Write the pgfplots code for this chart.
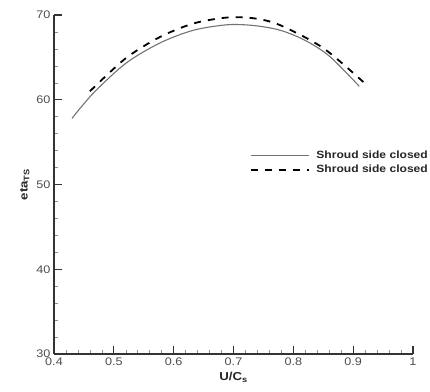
\documentclass[border=0pt]{standalone}
\usepackage{fontspec}
\setmainfont{Liberation Sans}[FakeStretch=1.15]
\usepackage{pgfplots}
\pgfplotsset{compat=1.18}
\begin{document}
\begin{tikzpicture}[x=1pt,y=1pt]
\useasboundingbox (0,0) rectangle (430,391);
\begin{axis}[
  at={(54pt,37pt)}, anchor=south west,
  scale only axis, width=359pt, height=339pt,
  xmin=0.4, xmax=1, ymin=30, ymax=70,
  axis x line=bottom, axis y line=left,
  axis line style={-, draw=black!80, line width=1.4pt},
  xtick={0.4,0.5,0.6,0.7,0.8,0.9,1},
  xticklabels={0.4,0.5,0.6,0.7,0.8,0.9,1},
  ytick={30,40,50,60,70},
  minor x tick num=4, minor y tick num=4,
  tick align=inside, major tick length=8pt, minor tick length=4pt,
  major tick style={draw=black!80, line width=1.1pt},
  minor tick style={draw=black!45, line width=0.6pt},
  ticklabel style={font=\fontsize{11}{13}\selectfont, text=black!70},
  /pgf/number format/assume math mode=true,
  xlabel={\textbf{U/C\textsubscript{s}}},
  ylabel={\textbf{eta\textsubscript{TS}}},
  label style={font=\fontsize{11.5}{13}\selectfont, text=black!85},
  legend style={at={(0.536,0.612)}, anchor=north west, draw=none, fill=none,
    font=\fontsize{10.5}{12}\selectfont\bfseries, text=black!85, row sep=1.5pt},
  legend cell align=left,
  legend image code/.code={\draw[#1] (0pt,0pt) -- (58pt,0pt); \path (63pt,0pt);},
]
\addplot[draw=black!55, line width=1.1pt, smooth] coordinates {
(0.43,57.8) (0.466,60.8) (0.52,64.3) (0.577,66.7) (0.633,68.2) (0.69,68.85)
(0.735,68.75) (0.778,68.2) (0.82,67.0) (0.861,65.1) (0.91,61.6)
};
\addlegendentry{Shroud side closed}
\addplot[draw=black, line width=1.8pt, dash pattern=on 7pt off 7pt, smooth] coordinates {
(0.46,61.0) (0.52,64.9) (0.577,67.4) (0.633,69.0) (0.689,69.7) (0.735,69.6)
(0.778,68.8) (0.85,66.1) (0.92,61.9)
};
\addlegendentry{Shroud side closed}
\end{axis}
\end{tikzpicture}
\end{document}
